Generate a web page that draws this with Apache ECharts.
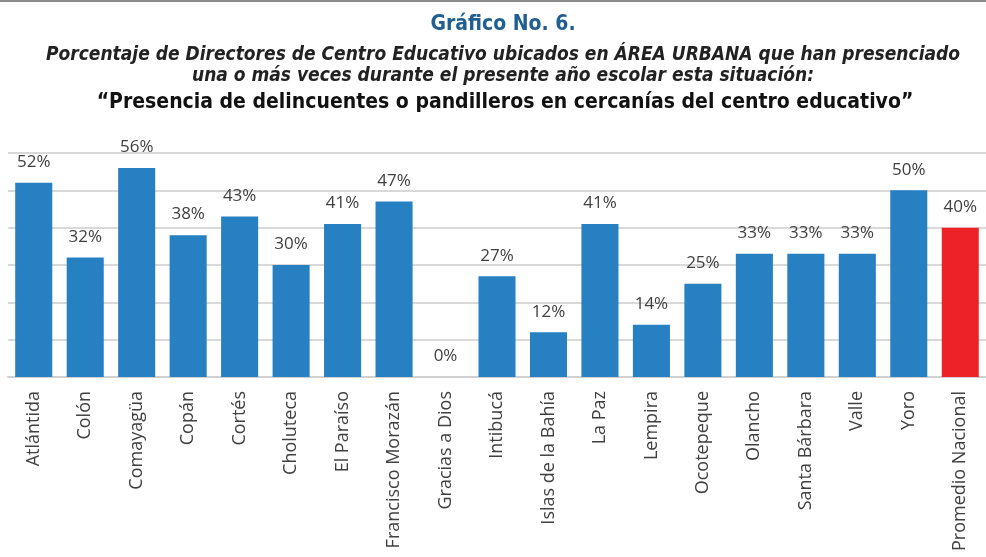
<!DOCTYPE html>
<html>
<head>
<meta charset="utf-8">
<script src="https://cdn.jsdelivr.net/npm/echarts@6/dist/echarts.min.js"></script>
<style>
  html, body { margin: 0; padding: 0; background: #fff; }
  #main { width: 986px; height: 557px; }
</style>
</head>
<body>
<div id="main"></div>
<script>
// departamentos y promedio nacional
var categorias = ['Atlántida', 'Colón', 'Comayagüa', 'Copán', 'Cortés', 'Choluteca', 'El Paraíso',
  'Francisco Morazán', 'Gracias a Dios', 'Intibucá', 'Islas de la Bahía', 'La Paz', 'Lempira',
  'Ocotepeque', 'Olancho', 'Santa Bárbara', 'Valle', 'Yoro', 'Promedio Nacional'];
var porcentajes = [52, 32, 56, 38, 43, 30, 41, 47, 0, 27, 12, 41, 14, 25, 33, 33, 33, 50, 40];

var azul = '#2680c2';
var rojo = '#ec2227';

var chart = echarts.init(document.getElementById('main'));

var titleFont = '"Liberation Sans Narrow", "DejaVu Sans Condensed", "Open Sans", sans-serif';

var option = {
  animation: false,
  title: [{
    text: 'Gráfico No. 6.',
    left: 498, top: 9, textAlign: 'center',
    textStyle: { fontFamily: titleFont, fontSize: 21, fontWeight: 'bold', color: '#1f5f92' }
  }, {
    text: 'Porcentaje de Directores de Centro Educativo ubicados en ÁREA URBANA que han presenciado\nuna o más veces durante el presente año escolar esta situación:',
    left: 498, top: 40, textAlign: 'center',
    textStyle: { fontFamily: titleFont, fontSize: 19, fontStyle: 'italic', fontWeight: 'bold', color: '#222', lineHeight: 21 }
  }, {
    text: '“Presencia de delincuentes o pandilleros en cercanías del centro educativo”',
    left: 500, top: 87, textAlign: 'center',
    textStyle: { fontFamily: titleFont, fontSize: 21, fontWeight: 'bold', color: '#111' }
  }],
  graphic: [{
    type: 'rect',
    shape: { x: 0, y: 0, width: 986, height: 2 },
    style: { fill: '#8a8a8a' }
  }],
  grid: { left: 8, right: 0, top: 153, bottom: 180 },
  xAxis: {
    type: 'category',
    data: categorias,
    axisTick: { show: false },
    axisLine: { lineStyle: { color: '#d0d0d0', width: 2 } },
    axisLabel: {
      interval: 0,
      rotate: 90,
      margin: 14,
      fontFamily: '"Open Sans", sans-serif',
      fontSize: 18,
      color: '#404040'
    }
  },
  yAxis: {
    type: 'value',
    min: 0, max: 60, interval: 10,
    axisLabel: { show: false },
    axisLine: { show: false },
    axisTick: { show: false },
    splitLine: { lineStyle: { color: '#d9d9d9', width: 2 } }
  },
  series: [{
    type: 'bar',
    data: porcentajes.map(function (v, i) {
      return { value: v, itemStyle: { color: i === porcentajes.length - 1 ? rojo : azul } };
    }),
    barCategoryGap: '28%',
    label: {
      show: true,
      position: 'top',
      distance: 12,
      formatter: '{c}%',
      fontFamily: '"Open Sans", sans-serif',
      fontSize: 17,
      color: '#404040'
    }
  }]
};

chart.setOption(option);
</script>
</body>
</html>
